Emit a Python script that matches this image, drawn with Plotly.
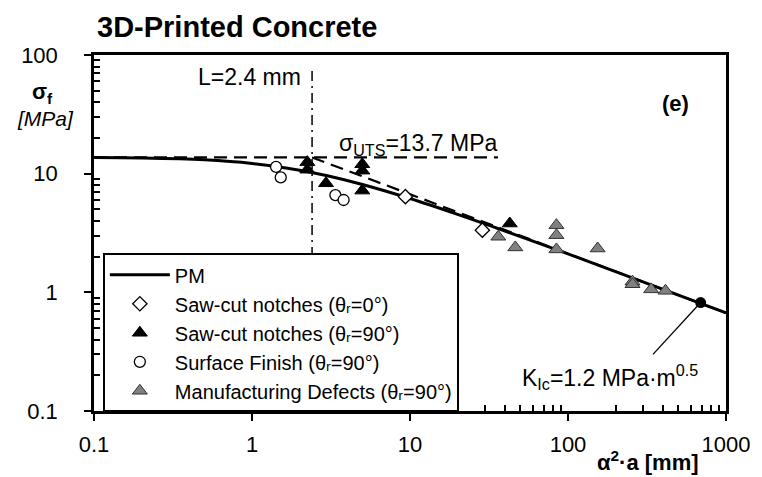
import plotly.graph_objects as go

# ---- data ----
pm_x = [0.1, 0.2, 0.5, 1, 2, 3, 5, 10, 20, 50, 100, 200, 500, 1000]
pm_y = [13.66, 13.56, 13.09, 12.20, 10.69, 9.59, 8.10, 6.17, 4.54, 2.95, 2.11, 1.494, 0.947, 0.671]

lefm_x = [2.4, 1000]
lefm_y = [13.7, 0.67]

uts_x = [0.1, 36]
uts_y = [13.7, 13.7]

L_x = [2.4, 2.4]
L_y = [0.1, 75]

saw0_x = [9.35, 28.7]
saw0_y = [6.4, 3.34]

saw90_x = [2.24, 2.24, 2.94, 4.99, 4.99, 4.99, 42.8]
saw90_y = [12.5, 10.8, 8.3, 12.0, 10.6, 7.2, 3.8]

surf_x = [1.42, 1.52, 3.37, 3.8]
surf_y = [11.4, 9.3, 6.6, 6.0]

mfg_x = [36.2, 46.4, 84.5, 84.5, 84.5, 154, 256, 256, 336, 414]
mfg_y = [2.94, 2.39, 3.68, 3.03, 2.30, 2.34, 1.23, 1.17, 1.06, 1.03]

kic_x = [691]
kic_y = [0.82]

leader_x = [691, 345]
leader_y = [0.82, 0.30]

x_ticks = [0.1, 1, 10, 100, 1000]
x_ticktext = ["0.1", "1", "10", "100", "1000"]
y_ticks = [0.1, 1, 10, 100]
y_ticktext = ["0.1", "1", "10", "100"]

FONT = "Liberation Sans, Arial, sans-serif"

fig = go.Figure()

# reference lines
fig.add_trace(go.Scatter(x=L_x, y=L_y, mode="lines", showlegend=False,
                         line=dict(color="black", width=1.5, dash="10px,5px,2px,5px")))
fig.add_trace(go.Scatter(x=uts_x, y=uts_y, mode="lines", showlegend=False,
                         line=dict(color="black", width=2.2, dash="13px,7px")))
fig.add_trace(go.Scatter(x=lefm_x, y=lefm_y, mode="lines", showlegend=False,
                         line=dict(color="black", width=2.2, dash="13px,7px")))
fig.add_trace(go.Scatter(x=leader_x, y=leader_y, mode="lines", showlegend=False,
                         line=dict(color="black", width=1.3)))
# PM curve
fig.add_trace(go.Scatter(x=pm_x, y=pm_y, mode="lines", name="PM", legendgroup="a",
                         line=dict(color="black", width=3, shape="spline")))

fig.add_trace(go.Scatter(x=saw0_x, y=saw0_y, mode="markers", legendgroup="b",
                         name="Saw-cut notches (θᵣ=0°)",
                         marker=dict(symbol="diamond", size=11, color="white",
                                     line=dict(color="black", width=1.3))))
fig.add_trace(go.Scatter(x=saw90_x, y=saw90_y, mode="markers", legendgroup="c",
                         name="Saw-cut notches (θᵣ=90°)",
                         marker=dict(symbol="triangle-up", size=13, color="black",
                                     line=dict(color="black", width=1))))
fig.add_trace(go.Scatter(x=surf_x, y=surf_y, mode="markers", legendgroup="d",
                         name="Surface Finish (θᵣ=90°)",
                         marker=dict(symbol="circle", size=11, color="white",
                                     line=dict(color="black", width=1.3))))
fig.add_trace(go.Scatter(x=mfg_x, y=mfg_y, mode="markers", legendgroup="e",
                         name="Manufacturing Defects (θᵣ=90°)",
                         marker=dict(symbol="triangle-up", size=13, color="#808080",
                                     line=dict(color="#333333", width=1))))
fig.add_trace(go.Scatter(x=kic_x, y=kic_y, mode="markers", showlegend=False,
                         marker=dict(symbol="circle", size=11, color="black")))

axis_common = dict(type="log", showgrid=False, zeroline=False, showline=True,
                   linecolor="black", linewidth=2.5, mirror=True,
                   ticks="outside", ticklen=7, tickwidth=2, tickcolor="black",
                   tickfont=dict(family=FONT, size=22, color="black"))

minor_x = [m * 10 ** e for e in range(-1, 3) for m in range(2, 10)]
minor_y = [m * 10 ** e for e in range(-1, 2) for m in range(2, 10)]

fig.update_xaxes(**axis_common, range=[-1, 3], tickvals=x_ticks, ticktext=x_ticktext,
                 ticklabelstandoff=5,
                 minor=dict(tickmode="array", tickvals=minor_x, ticks="inside",
                            ticklen=6, tickwidth=1.5, tickcolor="black", showgrid=False))
fig.update_yaxes(**axis_common, range=[-1, 2], tickvals=y_ticks, ticktext=y_ticktext,
                 ticklabelstandoff=22,
                 minor=dict(tickmode="array", tickvals=minor_y, ticks="inside",
                            ticklen=6, tickwidth=1.5, tickcolor="black", showgrid=False))

annots = [
    dict(text="<b>σ<sub>f</sub></b>", x=-0.081, y=0.893, size=22),
    dict(text="<i>[MPa]</i>", x=-0.077, y=0.822, size=21),
    dict(text="<b>α<sup>2</sup>·a [mm]</b>", x=0.877, y=-0.140, size=22),
    dict(text="(e)", x=0.920, y=0.864, size=22, bold=True),
    dict(text="σ<sub>UTS</sub>=13.7 MPa", x=0.384, y=0.748, size=23, xanchor="left"),
    dict(text="K<sub>Ic</sub>=1.2 MPa·m<sup>0.5</sup>", x=0.817, y=0.095, size=23),
    dict(text="L=2.4 mm", x=0.330, y=0.937, size=23, xanchor="right"),
]
for a in annots:
    t = a["text"]
    if a.get("bold"):
        t = "<b>" + t + "</b>"
    fig.add_annotation(text=t, x=a["x"], y=a["y"], xref="paper", yref="paper",
                       xanchor=a.get("xanchor", "center"), yanchor="middle",
                       showarrow=False, font=dict(family=FONT, size=a["size"], color="black"))

fig.update_layout(
    width=762, height=477,
    margin=dict(l=94, r=28, t=55, b=66),
    paper_bgcolor="white", plot_bgcolor="white",
    font=dict(family=FONT, color="black"),
    title=dict(text="<b>3D-Printed Concrete</b>", x=97 / 762, xanchor="left",
               y=1 - 27 / 477, yanchor="middle",
               font=dict(family=FONT, size=29, color="black")),
    legend=dict(x=0.014, y=0.443, xanchor="left", yanchor="top",
                bgcolor="white", bordercolor="black", borderwidth=2,
                font=dict(family=FONT, size=20, color="black"),
                itemwidth=60, tracegroupgap=0, traceorder="grouped"),
)

fig.write_html("out.html")
